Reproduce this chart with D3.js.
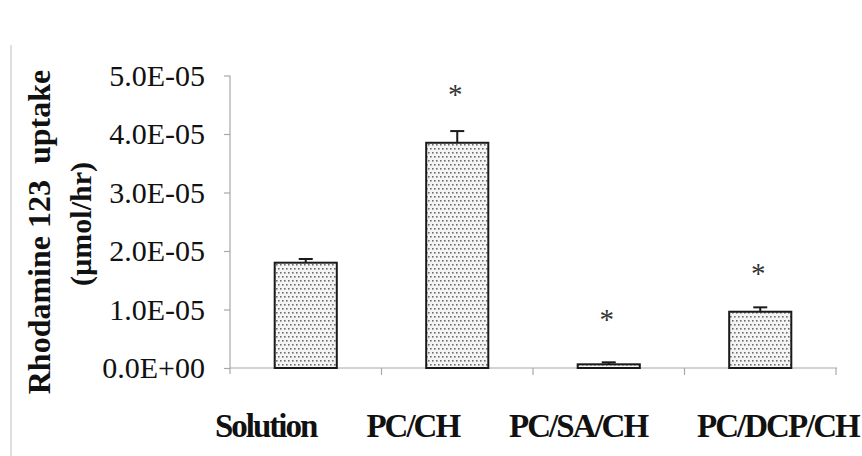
<!DOCTYPE html>
<html>
<head>
<meta charset="utf-8">
<script src="https://cdn.jsdelivr.net/npm/d3@7"></script>
<style>
  body { margin: 0; background: #fff; }
  svg { display: block; }
  .axis path, .axis line { stroke: #a8a8a8; stroke-width: 1.2; }
</style>
</head>
<body>
<script>
const width = 862;
const height = 456;

// data
const categories = ["Solution", "PC/CH", "PC/SA/CH", "PC/DCP/CH"];
const uptake = [1.80e-5, 3.85e-5, 0.063e-5, 0.962e-5];
const uptakeErr = [0.063e-5, 0.20e-5, 0.034e-5, 0.075e-5];
const starLevels = [null, 4.75e-5, 0.906e-5, 1.687e-5]; // * = significant
const yTicks = [0, 1e-5, 2e-5, 3e-5, 4e-5, 5e-5];
const yTickLabels = ["0.0E+00", "1.0E-05", "2.0E-05", "3.0E-05", "4.0E-05", "5.0E-05"];

const plotLeft = 230, plotRight = 836, plotTop = 75.5, plotBottom = 368;

const svg = d3.select("body").append("svg")
    .attr("width", width)
    .attr("height", height);

// dotted fill used on the bars
const pat = svg.append("defs").append("pattern")
    .attr("id", "dots")
    .attr("patternUnits", "userSpaceOnUse")
    .attr("width", 8)
    .attr("height", 8);
pat.append("rect").attr("width", 8).attr("height", 8).attr("fill", "#f4f4f4");
[[0, 0], [4, 0], [2, 4], [6, 4]].forEach(p => {
    pat.append("rect")
        .attr("x", p[0]).attr("y", p[1])
        .attr("width", 1.6).attr("height", 1.6)
        .attr("fill", "#6e6e6e");
});

// faint scan edge at the far left
svg.append("line")
    .attr("x1", 11).attr("x2", 11)
    .attr("y1", 45).attr("y2", height)
    .attr("stroke", "#d4d4d4")
    .attr("stroke-width", 1.5);

const x = d3.scaleBand()
    .domain(categories)
    .range([plotLeft, plotRight])
    .paddingInner(0.59)
    .paddingOuter(0.295);

const y = d3.scaleLinear()
    .domain([0, 5e-5])
    .range([plotBottom, plotTop]);

// y axis
const yAxis = d3.axisLeft(y)
    .tickValues(yTicks)
    .tickFormat((d, i) => yTickLabels[i])
    .tickSize(6)
    .tickPadding(19);

const gy = svg.append("g")
    .attr("class", "axis")
    .attr("transform", "translate(" + plotLeft + ",0)")
    .call(yAxis);
gy.select(".domain").attr("d", "M0," + plotTop + "V" + (plotBottom + 6));
gy.selectAll("text")
    .attr("fill", "#111")
    .style("font-family", "'Liberation Serif', 'Times New Roman', serif")
    .style("font-size", "30px");

// x axis: line with ticks at category boundaries
const gx = svg.append("g").attr("class", "axis");
gx.append("line")
    .attr("x1", plotLeft).attr("x2", plotRight + 1)
    .attr("y1", plotBottom).attr("y2", plotBottom);
gx.selectAll("line.tick")
    .data(categories)
    .enter()
    .append("line")
    .attr("class", "tick")
    .attr("x1", d => x(d) + x.bandwidth() / 2 + x.step() / 2)
    .attr("x2", d => x(d) + x.bandwidth() / 2 + x.step() / 2)
    .attr("y1", plotBottom)
    .attr("y2", plotBottom + 7);

// bars
svg.selectAll("rect.bar")
    .data(categories)
    .enter()
    .append("rect")
    .attr("class", "bar")
    .attr("x", d => x(d))
    .attr("y", (d, i) => y(uptake[i]))
    .attr("width", x.bandwidth())
    .attr("height", (d, i) => plotBottom - y(uptake[i]))
    .attr("fill", "url(#dots)")
    .attr("stroke", "#1a1a1a")
    .attr("stroke-width", 2);

// error bars (upper half only)
const eb = svg.selectAll("g.err")
    .data(categories)
    .enter()
    .append("g")
    .attr("class", "err")
    .attr("stroke", "#1a1a1a")
    .attr("stroke-width", 2);
eb.append("line")
    .attr("x1", d => x(d) + x.bandwidth() / 2)
    .attr("x2", d => x(d) + x.bandwidth() / 2)
    .attr("y1", (d, i) => y(uptake[i]))
    .attr("y2", (d, i) => y(uptake[i] + uptakeErr[i]));
eb.append("line")
    .attr("x1", d => x(d) + x.bandwidth() / 2 - 7)
    .attr("x2", d => x(d) + x.bandwidth() / 2 + 7)
    .attr("y1", (d, i) => y(uptake[i] + uptakeErr[i]))
    .attr("y2", (d, i) => y(uptake[i] + uptakeErr[i]));

// significance stars
svg.selectAll("text.star")
    .data(categories.filter((d, i) => starLevels[i] != null))
    .enter()
    .append("text")
    .attr("class", "star")
    .attr("x", d => x(d) + x.bandwidth() / 2 - 2)
    .attr("y", d => y(starLevels[categories.indexOf(d)]) + 14)
    .attr("text-anchor", "middle")
    .attr("fill", "#333")
    .style("font-family", "'Liberation Serif', serif")
    .style("font-size", "29px")
    .text("*");

// category labels, typed as one line with gaps
const xl = svg.append("text")
    .attr("x", 215)
    .attr("y", 437)
    .attr("fill", "#111")
    .style("font-family", "'Liberation Serif', 'Times New Roman', serif")
    .style("font-weight", "bold")
    .style("font-size", "33px")
    .style("letter-spacing", "-2px");
xl.selectAll("tspan")
    .data(categories)
    .enter()
    .append("tspan")
    .attr("dx", (d, i) => i === 0 ? 0 : 50)
    .text(d => d);

// y title
svg.append("text")
    .attr("transform", "translate(50,232) rotate(-90)")
    .attr("text-anchor", "middle")
    .attr("fill", "#111")
    .style("font-family", "'Liberation Serif', 'Times New Roman', serif")
    .style("font-weight", "bold")
    .style("font-size", "32px")
    .style("white-space", "pre")
    .text("Rhodamine 123  uptake");

svg.append("text")
    .attr("transform", "translate(91,224) rotate(-90)")
    .attr("text-anchor", "middle")
    .attr("fill", "#111")
    .style("font-family", "'Liberation Serif', 'Times New Roman', serif")
    .style("font-weight", "bold")
    .style("font-size", "30px")
    .text("(\u00b5mol/hr)");
</script>
</body>
</html>
